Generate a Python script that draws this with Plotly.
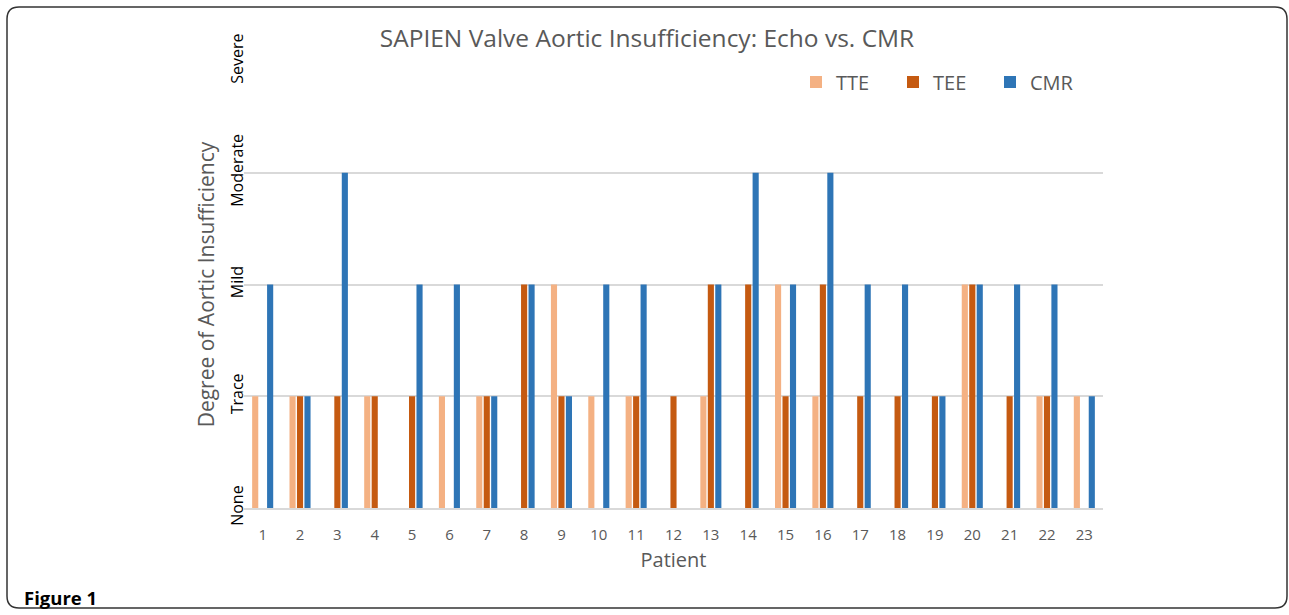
import plotly.graph_objects as go

patients = [str(i) for i in range(1, 24)]
tte = [1, 1, 0, 1, 0, 1, 1, 0, 2, 1, 1, 0, 1, 0, 2, 1, 0, 0, 0, 2, 0, 1, 1]
tee = [0, 1, 1, 1, 1, 0, 1, 2, 1, 0, 1, 1, 2, 2, 1, 2, 1, 1, 1, 2, 1, 1, 0]
cmr = [2, 1, 3, 0, 2, 2, 1, 2, 1, 2, 2, 0, 2, 3, 2, 3, 2, 2, 1, 2, 2, 2, 1]
grade_vals = [0, 1, 2, 3, 4]
grade_labels = ["None", "Trace", "Mild", "Moderate", "Severe"]

W, H = 1289, 615
L, R, T, B = 244, 186, 61, 107

fig = go.Figure()
fig.add_trace(go.Bar(x=patients, y=tte, name="TTE", marker=dict(color="#F4B183", line_width=0)))
fig.add_trace(go.Bar(x=patients, y=tee, name="TEE", marker=dict(color="#C55A11", line_width=0)))
fig.add_trace(go.Bar(x=patients, y=cmr, name="CMR", marker=dict(color="#2E75B6", line_width=0)))

# rounded frame in paper coords
pw, ph = W - L - R, H - T - B
def px(x): return (x - L) / pw
def py(y): return (H - B - y) / ph
x0, x1, y0, y1, r = 7, 1287, 7, 608, 12
path = (f"M {px(x0+r)},{py(y0)} L {px(x1-r)},{py(y0)} Q {px(x1)},{py(y0)} {px(x1)},{py(y0+r)} "
        f"L {px(x1)},{py(y1-r)} Q {px(x1)},{py(y1)} {px(x1-r)},{py(y1)} "
        f"L {px(x0+r)},{py(y1)} Q {px(x0)},{py(y1)} {px(x0)},{py(y1-r)} "
        f"L {px(x0)},{py(y0+r)} Q {px(x0)},{py(y0)} {px(x0+r)},{py(y0)} Z")

fig.update_layout(
    width=W, height=H,
    margin=dict(l=L, r=R, t=T, b=B),
    paper_bgcolor="white", plot_bgcolor="white",
    font=dict(family="Open Sans, sans-serif", color="#000000"),
    barmode="group", bargap=0.40, bargroupgap=0.18,
    title=dict(text="SAPIEN Valve Aortic Insufficiency: Echo vs. CMR",
               x=647 / W, xanchor="center", y=1 - 38 / H, yanchor="middle",
               font=dict(size=24.5, color="#595959")),
    legend=dict(orientation="h", x=px(796), xref="paper", y=py(82), yanchor="middle",
                xanchor="left", font=dict(size=20, color="#595959"),
                entrywidth=52, entrywidthmode="pixels", itemwidth=30,
                traceorder="normal", bgcolor="rgba(0,0,0,0)"),
    xaxis=dict(title=dict(text="Patient", font=dict(size=20, color="#595959"), standoff=10),
               tickfont=dict(size=15, color="#595959"), showgrid=False, ticklabelstandoff=12,
               showline=True, linecolor="#d9d9d9", linewidth=1.5, ticks=""),
    yaxis=dict(title=dict(text="Degree of Aortic Insufficiency", font=dict(size=21, color="#595959"), standoff=5),
               range=[0, 4], tickvals=grade_vals, ticktext=grade_labels, tickangle=-90,
               ticklabelstandoff=-3,
               tickfont=dict(size=16, color="#000000"), gridcolor="#d9d9d9", gridwidth=1.5,
               zeroline=False, showline=False, ticks=""),
    shapes=[dict(type="path", xref="paper", yref="paper", path=path,
                 line=dict(color="#333333", width=1.5), layer="above")],
    annotations=[dict(text="<b>Figure 1</b>", xref="paper", yref="paper",
                      x=px(22), y=py(597), xanchor="left", yanchor="middle",
                      showarrow=False, font=dict(size=18.5, color="#000000"))],
)

fig.write_html("out.html", config={"displayModeBar": False},
               post_script="document.body.style.margin='0';document.body.style.overflow='hidden';")
